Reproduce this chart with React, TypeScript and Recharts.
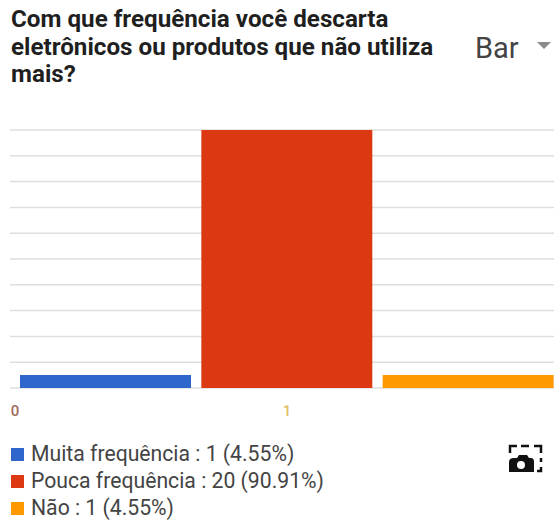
import { Bar, BarChart, CartesianGrid, Cell, XAxis, YAxis } from "recharts";

const categories = ["Muita frequência", "Pouca frequência", "Não"];
const values = [1, 20, 1];
const percents = ["4.55%", "90.91%", "4.55%"];
const colors = ["#2f66cc", "#dc3912", "#ff9900"];
const yTicks = [0, 2, 4, 6, 8, 10, 12, 14, 16, 18, 20];
const xTicks = [0, 1];
const xTickColors = ["#a06a5c", "#e0bf6c"];
const titleLines = [
  "Com que frequência você descarta",
  "eletrônicos ou produtos que não utiliza",
  "mais?",
];

const data = categories.map((name, i) => ({ name, value: values[i] }));
const font = "Roboto, sans-serif";

function ColoredTick({ x, y, payload, index }: any) {
  return (
    <text x={x} y={y - 10} textAnchor="middle" fontSize={15} fontWeight={500} fontFamily={font} fill={xTickColors[index]}>
      {payload.value}
    </text>
  );
}

export default function App() {
  return (
    <div
      style={{
        position: "absolute",
        left: 0,
        top: 0,
        width: 554,
        height: 520,
        overflow: "hidden",
        background: "#fff",
        fontFamily: font,
      }}
    >
      <div
        style={{
          position: "absolute",
          left: 11,
          top: 6,
          fontSize: 24.2,
          lineHeight: "27.5px",
          fontWeight: 700,
          color: "#1f1f1f",
          whiteSpace: "nowrap",
        }}
      >
        {titleLines.map((line) => (
          <div key={line}>{line}</div>
        ))}
      </div>

      <div style={{ position: "absolute", left: 475, top: 31, fontSize: 29, color: "#444" }}>Bar</div>
      <svg style={{ position: "absolute", left: 537, top: 41 }} width={16} height={10}>
        <path d="M0 1 L14 1 L7 8 Z" fill="#8a8a8a" />
      </svg>

      <div style={{ position: "absolute", left: 0, top: 120 }}>
        <BarChart
          width={570}
          height={300}
          data={data}
          margin={{ top: 10, right: 11, bottom: 0, left: 10 }}
          barCategoryGap={5}
        >
          <CartesianGrid vertical={false} stroke="#dedede" strokeWidth={1.5} />
          <YAxis hide domain={[0, 20]} ticks={yTicks} interval={0} />
          <XAxis dataKey="name" hide padding={{ left: 5, right: 0 }} />
          <XAxis
            xAxisId="ticks"
            type="number"
            domain={[0, 2]}
            ticks={xTicks}
            axisLine={false}
            tickLine={false}
            height={32}
            padding={{ left: 5, right: 0 }}
            tick={ColoredTick}
          />
          <Bar dataKey="value" isAnimationActive={false}>
            {data.map((d, i) => (
              <Cell key={d.name} fill={colors[i]} />
            ))}
          </Bar>
        </BarChart>
      </div>

      <div style={{ position: "absolute", left: 11, top: 445 }}>
        {data.map((d, i) => (
          <div
            key={d.name}
            style={{
              display: "flex",
              alignItems: "center",
              height: 18,
              lineHeight: "18px",
              marginBottom: 9,
              fontSize: 21.2,
              color: "#444",
              whiteSpace: "nowrap",
            }}
          >
            <span style={{ width: 13, height: 13, marginRight: 7, background: colors[i] }} />
            {`${d.name} : ${d.value} (${percents[i]})`}
          </div>
        ))}
      </div>

      <svg style={{ position: "absolute", left: 508, top: 444 }} width={36} height={30}>
        <path d="M2 9 V2 H9 M13 2 H21 M26 2 H33 V9 M33 14 V18 M33 23 V27 H29" fill="none" stroke="#111" strokeWidth={2.5} />
        <path d="M1 28 V18 Q1 14 6 14 H9 L11 11 H19 L21 14 H23 Q26 14 26 18 V28 Z" fill="#111" />
        <circle cx={13} cy={21} r={4} fill="#fff" />
      </svg>
    </div>
  );
}
